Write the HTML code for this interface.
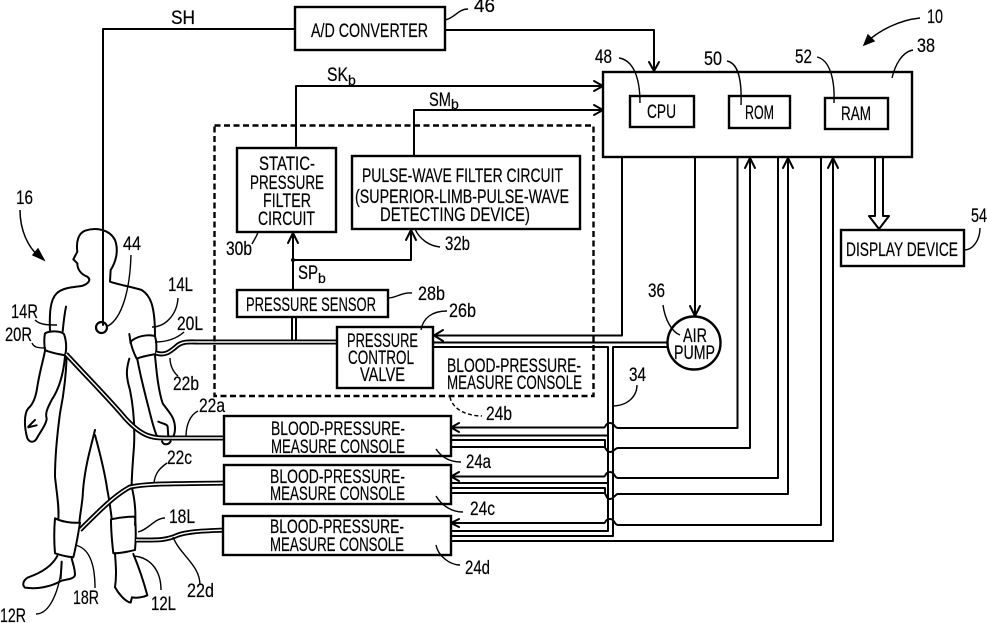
<!DOCTYPE html>
<html><head><meta charset="utf-8">
<style>
html,body{margin:0;padding:0;background:#fff}
svg{display:block}
text{font-family:"Liberation Sans",sans-serif;font-size:19.5px;fill:#000;stroke:#000;stroke-width:.2}
.p{fill:none;stroke:#000;stroke-width:2;stroke-linecap:round;stroke-linejoin:round}
.t{fill:none;stroke:#000;stroke-width:1.4}
.b{fill:#fff;stroke:#000;stroke-width:2.4}
</style></head><body>
<svg width="987" height="623" viewBox="0 0 987 623" xmlns="http://www.w3.org/2000/svg">
<rect width="987" height="623" fill="#fff"/>

<!-- human figure -->
<g transform="translate(0,200) scale(.3333)" fill="none" stroke="#000" stroke-width="6" stroke-linecap="round" stroke-linejoin="round">
<path d="M150 395C148 340 150 300 170 280C190 262 220 262 245 258C265 252 275 240 262 230C240 222 232 205 232 190L220 178L232 155C228 125 235 100 255 92C290 80 330 90 345 120C358 155 345 190 332 210L330 245C360 255 400 262 425 270C450 285 465 315 465 405"/>
<path d="M198 320C192 350 190 375 188 395"/>
<path d="M388 402L392 430"/>
<path d="M135 400C150 392 180 392 192 402C200 425 200 450 195 466C175 462 150 458 135 450C132 430 132 415 135 400Z"/>
<path d="M392 425C410 408 445 402 465 408C470 425 470 445 468 462C450 465 425 470 410 476C402 460 395 445 392 425Z"/>
<path d="M135 452C130 480 120 510 112 560C108 590 100 612 85 625C72 640 72 680 82 715C90 730 105 728 112 712C125 690 140 670 140 655C135 640 142 625 155 600C175 570 190 525 195 470"/>
<path d="M85 680L105 660M85 682L110 676"/>
<path d="M200 470C198 530 190 590 180 640C172 700 165 780 165 830C170 880 178 920 175 958"/>
<path d="M285 690L270 750C260 790 250 840 248 890C245 920 240 945 238 968"/>
<path d="M285 705C300 760 315 820 322 870C328 900 332 930 335 955"/>
<path d="M388 476C378 510 378 530 390 570C400 620 405 680 402 740C398 790 395 830 395 860C405 900 408 940 405 975"/>
<path d="M412 478C420 520 432 570 445 620C455 660 462 690 470 706"/>
<path d="M465 466C470 520 475 570 488 610C505 635 525 650 525 685C525 705 518 715 512 718"/>
<path d="M475 665C490 672 502 672 503 680L505 710"/>
<path d="M486 724C490 736 505 736 512 724"/>
<path d="M165 955C185 965 215 970 240 968C235 1000 228 1040 220 1072C200 1070 180 1065 165 1060C162 1025 162 990 165 955Z"/>
<path d="M333 958C360 952 385 950 405 950C408 985 408 1020 405 1050C385 1055 360 1060 340 1060C336 1025 333 990 333 958Z"/>
<path d="M172 1068C155 1100 120 1120 85 1132C70 1140 65 1155 75 1163C110 1168 150 1162 185 1142C200 1138 222 1138 225 1125C225 1105 218 1090 215 1075"/>
<path d="M345 1060C348 1100 350 1130 345 1162C355 1180 375 1205 392 1208L396 1192C410 1195 430 1192 442 1186C435 1160 420 1110 400 1062"/>
<path d="M185 1085L182 1135"/>
</g>
<circle cx="101.500" cy="327.500" r="5.500" fill="#fff" stroke="#000" stroke-width="2.200"/>

<!-- tubes -->
<g fill="none" stroke-linecap="butt">
<path d="M66 354C90 380 110 400 125 418C145 440 155 438 175 438L225 438" stroke="#000" stroke-width="5"/>
<path d="M66 354C90 380 110 400 125 418C145 440 155 438 175 438L225 438" stroke="#fff" stroke-width="1.400"/>
<path d="M156 353C165 356 170 352 178 345C184 341 190 342 200 342L337 342" stroke="#000" stroke-width="5"/>
<path d="M156 353C165 356 170 352 178 345C184 341 190 342 200 342L337 342" stroke="#fff" stroke-width="1.400"/>
<path d="M80 530C100 510 115 495 130 487C150 483 175 484 224 483" stroke="#000" stroke-width="5"/>
<path d="M80 530C100 510 115 495 130 487C150 483 175 484 224 483" stroke="#fff" stroke-width="1.400"/>
<path d="M136 540C155 540 165 541 178 535C190 531 205 531 224 530" stroke="#000" stroke-width="5"/>
<path d="M136 540C155 540 165 541 178 535C190 531 205 531 224 530" stroke="#fff" stroke-width="1.400"/>
</g>

<!-- dashed box -->
<rect x="214.500" y="125.500" width="379" height="270.500" fill="none" stroke="#000" stroke-width="2.400" stroke-dasharray="6 3.500"/>

<!-- signal lines -->
<g class="p">
<path d="M103 325V29H295"/>
<path d="M445 30H654V71"/>
<path d="M649 62L654 71L659 62"/>
<path d="M296 148V86H602"/>
<path d="M594 81L603 86L594 91"/>
<path d="M414 156V110H602"/>
<path d="M594 105L603 110L594 115"/>
<path d="M293 290V234"/>
<path d="M288 243L293 233L298 243"/>
<path d="M293 260H411V231"/>
<path d="M406 240L411 230L416 240"/>
<path d="M292 317V340M296 317V340"/>
<path d="M434 335.500H622V157"/>
<path d="M443 330L434 335.500L443 341"/>
<path d="M695 157V315"/>
<path d="M690 306L695 316L700 306"/>
<!-- air line -->
<path d="M433 342.500H667M433 347H608V531H451M613 347H667M613 347V536H451"/>
<!-- console a -->
<path d="M459 423L451 427.500L459 432M451 427.500H604C606 427.500 605 423 610 423C615 423 614 428 618 428H737.500V157"/>
<path d="M451 435.500H608M451 440H605V447M451 447H604C606 447 606 452 610 452C614 452 615 448 618 448H750V159"/>
<path d="M745 168L750 158L755 168"/>
<!-- console c -->
<path d="M459 472L451 476.500L459 481M451 476.500H604C606 476.500 605 472 610 472C615 472 614 478 618 478H778V157"/>
<path d="M451 483H608M451 488H605V493M451 493H604C606 493 606 499 610 499C614 499 615 494 618 494H788V159"/>
<path d="M783 168L788 158L793 168"/>
<!-- console d -->
<path d="M459 519L451 523L459 527M451 523H604C606 523 605 519 610 519C615 519 614 525 618 525H821V157"/>
<path d="M451 541H833V159"/>
<path d="M828 168L833 158L838 168"/>
<!-- display arrow -->
<path d="M875 158V216H869L879 229L889 216H883V158" stroke-width="2"/>
</g>

<!-- boxes -->
<rect class="b" x="295" y="7" width="150" height="43"/>
<rect class="b" x="603" y="72" width="309" height="85"/>
<rect class="b" x="630" y="96" width="64" height="31"/>
<rect class="b" x="729" y="96" width="61" height="32"/>
<rect class="b" x="825" y="98" width="63" height="31"/>
<rect class="b" x="841" y="230" width="123" height="36"/>
<rect class="b" x="237" y="148" width="99" height="84"/>
<rect class="b" x="352" y="156" width="228" height="73"/>
<rect class="b" x="237" y="290" width="151" height="27"/>
<rect class="b" x="337" y="327" width="96" height="61"/>
<rect class="b" x="224" y="416" width="227" height="40"/>
<rect class="b" x="224" y="465" width="227" height="39"/>
<rect class="b" x="223" y="516" width="228" height="39"/>
<circle class="b" cx="694" cy="343" r="26.500"/>

<!-- leaders -->
<g class="t">
<path d="M445 20C455 18 458 9 468 9"/>
<path d="M920 18C900 20 880 30 868 41" stroke-width="1.500"/>
<path d="M864 45L868 35L874 41Z" fill="#000"/>
<path d="M892 78C895 65 902 52 913 50"/>
<path d="M619 58C632 60 640 75 640 103"/>
<path d="M727 61C738 63 742 80 741 105"/>
<path d="M817 57C830 60 835 80 834 103"/>
<path d="M964 250C973 250 980 240 980 228"/>
<path d="M20 210C20 230 28 248 40 257" stroke-width="1.500"/>
<path d="M44 260L33 255L38 249Z" fill="#000"/>
<path d="M131 255C130 290 122 318 108 326"/>
<path d="M178 298C177 315 165 327 152 327"/>
<path d="M35 320C40 325 48 325 57 325"/>
<path d="M32 343C34 348 40 348 46 348"/>
<path d="M184 332C175 340 165 342 155 342"/>
<path d="M170 358C170 365 173 372 178 376"/>
<path d="M186 437C186 425 190 415 198 411"/>
<path d="M154 483C155 473 160 468 167 463"/>
<path d="M173 537C180 555 200 565 200 585"/>
<path d="M138 532C148 530 155 518 165 518"/>
<path d="M75 545C90 548 95 565 95 588"/>
<path d="M133 556C150 557 161 570 161 590"/>
<path d="M36 614C50 614 60 590 62 562"/>
<path d="M252 244C254 240 257 236 258 232"/>
<path d="M415 229C420 240 430 246 440 247"/>
<path d="M388 298C396 298 402 292 412 293"/>
<path d="M421 330C423 318 432 311 447 311"/>
<path d="M450 397C452 408 465 416 482 416" stroke-dasharray="4 2.500"/>
<path d="M436 449C442 458 450 462 461 462"/>
<path d="M436 496C442 506 452 512 463 512"/>
<path d="M436 545C438 556 450 565 460 565"/>
<path d="M612 406C628 406 637 396 637 385"/>
<path d="M663 305C665 320 672 332 680 335"/>
</g>
<circle cx="293" cy="260" r="2"/>

<!-- box text -->
<g>
<text x="311" y="37" textLength="117" lengthAdjust="spacingAndGlyphs">A/D CONVERTER</text>
<text x="647" y="118" textLength="29" lengthAdjust="spacingAndGlyphs">CPU</text>
<text x="745" y="119" textLength="29" lengthAdjust="spacingAndGlyphs">ROM</text>
<text x="841" y="120" textLength="30" lengthAdjust="spacingAndGlyphs">RAM</text>
<text x="846" y="256" textLength="112" lengthAdjust="spacingAndGlyphs">DISPLAY DEVICE</text>
<text x="259" y="170" textLength="56" lengthAdjust="spacingAndGlyphs">STATIC-</text>
<text x="250" y="189" textLength="74" lengthAdjust="spacingAndGlyphs">PRESSURE</text>
<text x="263" y="207" textLength="48" lengthAdjust="spacingAndGlyphs">FILTER</text>
<text x="258" y="225" textLength="57" lengthAdjust="spacingAndGlyphs">CIRCUIT</text>
<text x="362" y="182" textLength="201" lengthAdjust="spacingAndGlyphs">PULSE-WAVE FILTER CIRCUIT</text>
<text x="355" y="203" textLength="214" lengthAdjust="spacingAndGlyphs">(SUPERIOR-LIMB-PULSE-WAVE</text>
<text x="380" y="221" textLength="150" lengthAdjust="spacingAndGlyphs">DETECTING DEVICE)</text>
<text x="246" y="311" textLength="130" lengthAdjust="spacingAndGlyphs">PRESSURE SENSOR</text>
<text x="347" y="347" textLength="71" lengthAdjust="spacingAndGlyphs">PRESSURE</text>
<text x="348" y="364" textLength="66" lengthAdjust="spacingAndGlyphs">CONTROL</text>
<text x="360" y="381" textLength="45" lengthAdjust="spacingAndGlyphs">VALVE</text>
<text x="447" y="372" textLength="134" lengthAdjust="spacingAndGlyphs">BLOOD-PRESSURE-</text>
<text x="447" y="389" textLength="135" lengthAdjust="spacingAndGlyphs">MEASURE CONSOLE</text>
<text x="271" y="435" textLength="134" lengthAdjust="spacingAndGlyphs">BLOOD-PRESSURE-</text>
<text x="271" y="453" textLength="134" lengthAdjust="spacingAndGlyphs">MEASURE CONSOLE</text>
<text x="270" y="483" textLength="135" lengthAdjust="spacingAndGlyphs">BLOOD-PRESSURE-</text>
<text x="270" y="500" textLength="135" lengthAdjust="spacingAndGlyphs">MEASURE CONSOLE</text>
<text x="270" y="533" textLength="134" lengthAdjust="spacingAndGlyphs">BLOOD-PRESSURE-</text>
<text x="270" y="551" textLength="134" lengthAdjust="spacingAndGlyphs">MEASURE CONSOLE</text>
<text x="683" y="342" textLength="24" lengthAdjust="spacingAndGlyphs">AIR</text>
<text x="674" y="359" textLength="41" lengthAdjust="spacingAndGlyphs">PUMP</text>
</g>

<!-- signal labels -->
<text x="171" y="24" textLength="24" lengthAdjust="spacingAndGlyphs">SH</text>
<text x="327" y="81" textLength="21" lengthAdjust="spacingAndGlyphs">SK</text><text x="348" y="85" style="font-size:14px">b</text>
<text x="429" y="106" textLength="22" lengthAdjust="spacingAndGlyphs">SM</text><text x="451" y="109" style="font-size:14px">b</text>
<text x="298" y="279" textLength="20" lengthAdjust="spacingAndGlyphs">SP</text><text x="318" y="283" style="font-size:14px">b</text>

<!-- reference numerals -->
<text x="474" y="12" textLength="21" lengthAdjust="spacingAndGlyphs">46</text>
<text x="927" y="23" textLength="16" lengthAdjust="spacingAndGlyphs">10</text>
<text x="917" y="52" textLength="18" lengthAdjust="spacingAndGlyphs">38</text>
<text x="595" y="63" textLength="17" lengthAdjust="spacingAndGlyphs">48</text>
<text x="704" y="65" textLength="18" lengthAdjust="spacingAndGlyphs">50</text>
<text x="795" y="63" textLength="17" lengthAdjust="spacingAndGlyphs">52</text>
<text x="971" y="222" textLength="16" lengthAdjust="spacingAndGlyphs">54</text>
<text x="16" y="204" textLength="17" lengthAdjust="spacingAndGlyphs">16</text>
<text x="123" y="250" textLength="18" lengthAdjust="spacingAndGlyphs">44</text>
<text x="168" y="291" textLength="25" lengthAdjust="spacingAndGlyphs">14L</text>
<text x="11" y="318" textLength="27" lengthAdjust="spacingAndGlyphs">14R</text>
<text x="5" y="341" textLength="27" lengthAdjust="spacingAndGlyphs">20R</text>
<text x="177" y="330" textLength="26" lengthAdjust="spacingAndGlyphs">20L</text>
<text x="173" y="390" textLength="26" lengthAdjust="spacingAndGlyphs">22b</text>
<text x="199" y="412" textLength="26" lengthAdjust="spacingAndGlyphs">22a</text>
<text x="167" y="464" textLength="25" lengthAdjust="spacingAndGlyphs">22c</text>
<text x="187" y="597" textLength="27" lengthAdjust="spacingAndGlyphs">22d</text>
<text x="169" y="523" textLength="26" lengthAdjust="spacingAndGlyphs">18L</text>
<text x="73" y="604" textLength="26" lengthAdjust="spacingAndGlyphs">18R</text>
<text x="151" y="610" textLength="25" lengthAdjust="spacingAndGlyphs">12L</text>
<text x="0" y="622" textLength="26" lengthAdjust="spacingAndGlyphs">12R</text>
<text x="226" y="255" textLength="26" lengthAdjust="spacingAndGlyphs">30b</text>
<text x="445" y="250" textLength="25" lengthAdjust="spacingAndGlyphs">32b</text>
<text x="418" y="300" textLength="27" lengthAdjust="spacingAndGlyphs">28b</text>
<text x="449" y="317" textLength="27" lengthAdjust="spacingAndGlyphs">26b</text>
<text x="486" y="420" textLength="26" lengthAdjust="spacingAndGlyphs">24b</text>
<text x="466" y="468" textLength="25" lengthAdjust="spacingAndGlyphs">24a</text>
<text x="470" y="515" textLength="25" lengthAdjust="spacingAndGlyphs">24c</text>
<text x="465" y="574" textLength="25" lengthAdjust="spacingAndGlyphs">24d</text>
<text x="629" y="381" textLength="17" lengthAdjust="spacingAndGlyphs">34</text>
<text x="648" y="297" textLength="17" lengthAdjust="spacingAndGlyphs">36</text>
</svg>
</body></html>
